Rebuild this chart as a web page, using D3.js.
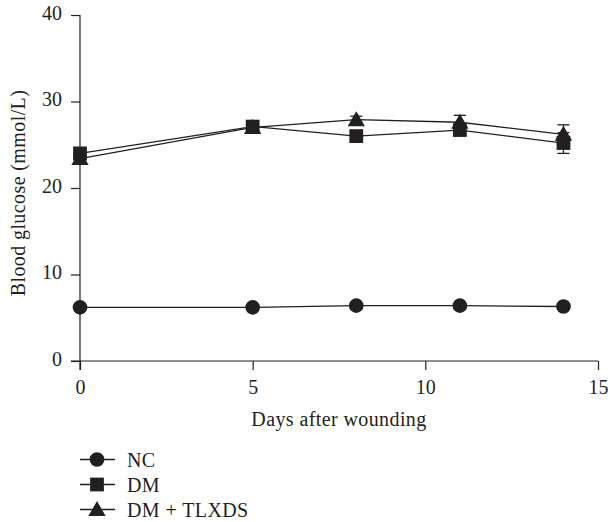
<!DOCTYPE html>
<html>
<head>
<meta charset="utf-8">
<script src="https://cdn.jsdelivr.net/npm/d3@7"></script>
<style>
  body { margin: 0; background: #fff; }
  text { font-family: "Liberation Serif", "DejaVu Serif", serif; fill: #231f20; }
</style>
</head>
<body>
<div id="chart"></div>
<script>
// data
const days = [0, 5, 8, 11, 14]
const ncValues = [6.2, 6.2, 6.4, 6.4, 6.3]
const ncErr = [0.2, 0.2, 0.2, 0.2, 0.2]
const dmValues = [24.0, 27.1, 26.0, 26.7, 25.2]
const dmErr = [0.3, 0.3, 0.5, 0.4, 1.2]
const tlxdsValues = [23.4, 27.0, 27.9, 27.6, 26.2]
const tlxdsErr = [0.3, 0.3, 0.4, 0.8, 1.1]
const xTicks = [0, 5, 10, 15]
const yTicks = [0, 10, 20, 30, 40]
const seriesNames = ['NC', 'DM', 'DM + TLXDS']
const seriesShapes = ['circle', 'square', 'triangle']

const series = [
  { name: seriesNames[0], shape: seriesShapes[0], values: ncValues, err: ncErr },
  { name: seriesNames[1], shape: seriesShapes[1], values: dmValues, err: dmErr },
  { name: seriesNames[2], shape: seriesShapes[2], values: tlxdsValues, err: tlxdsErr },
]

const width = 610
const height = 522
const margin = { top: 15, right: 12, bottom: 161, left: 80 }
const ink = '#231f20'
const fontSize = '20px'
const spacing = '0.4px'

const svg = d3
  .select('#chart')
  .append('svg')
  .attr('width', width)
  .attr('height', height)

const x = d3.scaleLinear().domain([0, 15]).range([margin.left, width - margin.right])
const y = d3.scaleLinear().domain([0, 40]).range([height - margin.bottom, margin.top])

// Axes
const xAxis = svg
  .append('g')
  .attr('transform', `translate(0,${y(0)})`)
  .call(d3.axisBottom(x).tickValues(xTicks).tickSize(9).tickPadding(10))
xAxis.select('.domain').attr('d', `M${x(0) - 9},0H${x(15)}`)

const yAxis = svg
  .append('g')
  .attr('transform', `translate(${x(0)},0)`)
  .call(d3.axisLeft(y).tickValues(yTicks).tickSize(9).tickPadding(9))
yAxis.select('.domain').attr('d', `M0,${y(40)}V${y(0) + 9}`)
yAxis.selectAll('.tick text').attr('dy', '0.22em')

svg.selectAll('.domain, .tick line').attr('stroke', ink).attr('stroke-width', 1.2)
svg.selectAll('.tick text')
  .attr('fill', ink)
  .style('font-size', fontSize)
  .style('font-family', '"Liberation Serif", serif')

// Axis titles
svg
  .append('text')
  .attr('text-anchor', 'middle')
  .attr('x', (x(0) + x(15)) / 2)
  .attr('y', 426)
  .style('font-size', fontSize)
  .style('letter-spacing', spacing)
  .text('Days after wounding')

svg
  .append('text')
  .attr('text-anchor', 'middle')
  .attr('transform', 'rotate(-90)')
  .attr('x', -193)
  .attr('y', 25)
  .style('font-size', fontSize)
  .style('letter-spacing', spacing)
  .text('Blood glucose (mmol/L)')

// marker drawing
const symbolFor = {
  circle: d3.symbol().type(d3.symbolCircle).size(170),
  square: d3.symbol().type(d3.symbolSquare).size(190),
  triangle: d3.symbol().type(d3.symbolTriangle).size(130),
}

const line = d3
  .line()
  .x(d => x(d.day))
  .y(d => y(d.value))

series.forEach(s => {
  const pts = days.map((day, i) => ({ day, value: s.values[i], err: s.err[i] }))
  const g = svg.append('g')

  g.append('path')
    .datum(pts)
    .attr('fill', 'none')
    .attr('stroke', ink)
    .attr('stroke-width', 1.3)
    .attr('d', line)

  // error bars
  const eb = g.selectAll('.err').data(pts).enter().append('g')
  eb.append('line')
    .attr('x1', d => x(d.day))
    .attr('x2', d => x(d.day))
    .attr('y1', d => y(d.value - d.err))
    .attr('y2', d => y(d.value + d.err))
    .attr('stroke', ink)
    .attr('stroke-width', 1.3)
  eb.selectAll('.cap')
    .data(d => [d.value - d.err, d.value + d.err].map(v => ({ day: d.day, v })))
    .enter()
    .append('line')
    .attr('x1', d => x(d.day) - 6)
    .attr('x2', d => x(d.day) + 6)
    .attr('y1', d => y(d.v))
    .attr('y2', d => y(d.v))
    .attr('stroke', ink)
    .attr('stroke-width', 1.3)

  g.selectAll('.mark')
    .data(pts)
    .enter()
    .append('path')
    .attr('transform', d => `translate(${x(d.day)},${y(d.value) + (s.shape === 'triangle' ? 1.5 : 0)})`)
    .attr('d', symbolFor[s.shape]())
    .attr('fill', ink)
})

// Legend
const legend = svg
  .selectAll('.legend')
  .data(series)
  .enter()
  .append('g')
  .attr('transform', (d, i) => `translate(80,${459.5 + i * 25})`)

legend.append('line')
  .attr('x1', 0)
  .attr('x2', 35)
  .attr('stroke', ink)
  .attr('stroke-width', 1.3)
legend.append('path')
  .attr('transform', d => `translate(17,${d.shape === 'triangle' ? 1.5 : 0})`)
  .attr('d', d => symbolFor[d.shape]())
  .attr('fill', ink)
legend.append('text')
  .attr('x', 47)
  .attr('dy', '0.35em')
  .style('font-size', fontSize)
  .style('letter-spacing', spacing)
  .text(d => d.name)
</script>
</body>
</html>
